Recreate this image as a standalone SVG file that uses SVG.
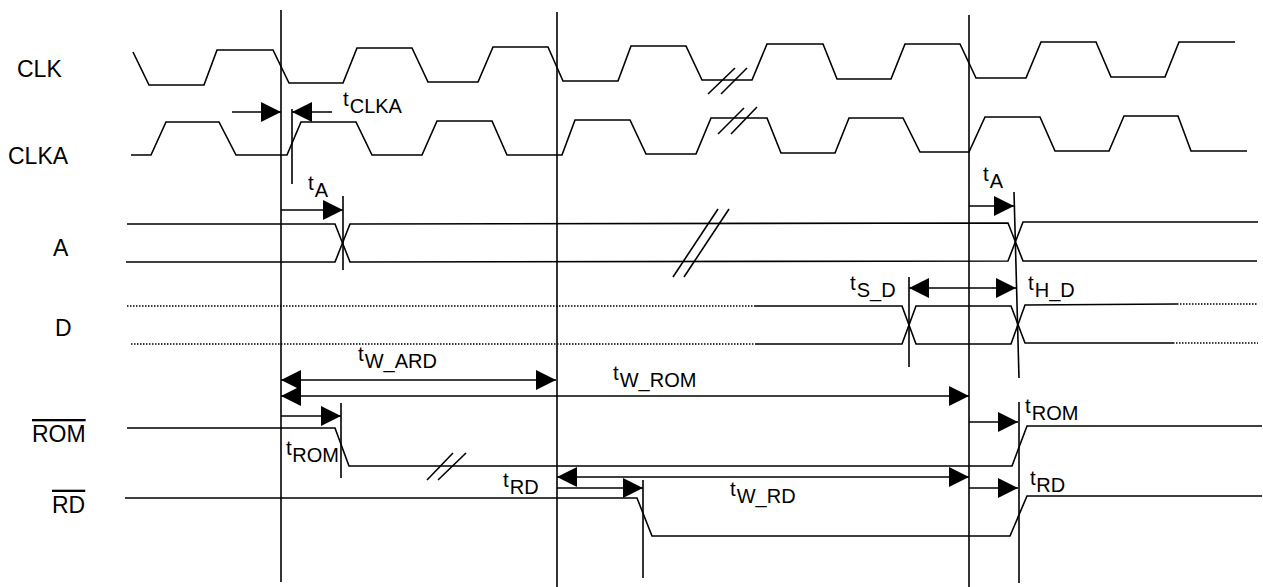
<svg xmlns="http://www.w3.org/2000/svg" width="1263" height="587" viewBox="0 0 1263 587">
<style>
.w{fill:none;stroke:#000;stroke-width:1.6;stroke-linejoin:miter}
.dot{fill:none;stroke:#000;stroke-width:1.4;stroke-dasharray:1.5 1.5}
.v{stroke:#000;stroke-width:1.6}
.a{fill:none;stroke:#000;stroke-width:1.6}
.lbl{font-family:"Liberation Sans",Arial,sans-serif;font-size:23px;fill:#000}
.t{font-family:"Liberation Sans",Arial,sans-serif;font-size:20.5px;fill:#000}
.s{font-size:20px}
</style>
<defs>
<marker id="ah" viewBox="0 0 20 20" refX="20" refY="10" markerWidth="20" markerHeight="20" markerUnits="userSpaceOnUse" orient="auto-start-reverse">
<path d="M0,0 L20,10 L0,20 z" fill="#000"/>
</marker>
</defs>
<rect width="1263" height="587" fill="#fff"/>

<g id="guides">
<line class="v" x1="281" y1="10" x2="281" y2="582"/>
<line class="v" x1="557" y1="12" x2="557" y2="587"/>
<line class="v" x1="969" y1="15" x2="969" y2="587"/>
<line class="v" x1="292" y1="109" x2="292" y2="184"/>
<line class="v" x1="343" y1="196" x2="343" y2="270"/>
<line class="v" x1="341" y1="403" x2="341" y2="478"/>
<line class="v" x1="643" y1="480" x2="643" y2="578"/>
<line class="v" x1="909" y1="277" x2="909" y2="367"/>
<line class="v" x1="1014" y1="192" x2="1019" y2="378"/>
<line class="v" x1="1019" y1="402" x2="1019" y2="583"/>
</g>

<g id="clk">
<text class="lbl" x="17" y="76.5">CLK</text>
<polyline class="w" points="133,52 149,85 204,85 217,50 273,50 289,83 343,83 357,48 412,48 428,82 478,82 493,47 548,47 563,81 618,81 631,46 686,46 702,80 752,80 767,44 823,44 837,79 891,79 905,44 960,44 976,78 1026,78 1041,42 1096,42 1111,77 1165,77 1179,42 1235,42"/>
<line class="w" x1="708" y1="94" x2="735" y2="68"/>
<line class="w" x1="721" y1="94" x2="747" y2="68"/>
</g>

<g id="clka">
<text class="lbl" x="8" y="164">CLKA</text>
<polyline class="w" points="131,155 151,155 166,122 219,122 236,155 287,155 301,122 356,122 372,155 422,155 437,121 492,121 507,155 562,155 575,120 630,120 646,154 696,154 711,118 767,118 781,153 835,153 849,118 903,118 920,152 969,152 985,117 1040,117 1055,151 1109,151 1124,116 1178,116 1191,151 1247,151"/>
<line class="w" x1="718" y1="134" x2="744" y2="108"/>
<line class="w" x1="731" y1="134" x2="757" y2="107"/>
</g>

<g id="a">
<text class="lbl" x="53" y="256">A</text>
<polyline class="w" points="127,224 335,224 350,262 1008,261 1023,222 1258,222"/>
<polyline class="w" points="126,262 335,262 350,224 1008,223 1023,261 1257,261"/>
<line class="w" x1="673" y1="277" x2="718" y2="209"/>
<line class="w" x1="684" y1="277" x2="729" y2="209"/>
</g>

<g id="d">
<text class="lbl" x="55" y="336">D</text>
<line class="dot" x1="127" y1="306" x2="755" y2="306"/>
<line class="dot" x1="131" y1="344" x2="755" y2="344"/>
<polyline class="w" points="755,306 902,306 916,344 1011,344 1025,305 1177,304"/>
<polyline class="w" points="755,344 902,344 916,306 1011,306 1025,343 1173,343"/>
<line class="dot" x1="1177" y1="304" x2="1258" y2="304"/>
<line class="dot" x1="1173" y1="343" x2="1258" y2="343"/>
</g>

<g id="rom">
<text class="lbl" x="32" y="442" text-decoration="overline">ROM</text>
<polyline class="w" points="127,428 335,428 349,466 1012,466 1027,426 1262,426"/>
<line class="w" x1="427" y1="480" x2="453" y2="453"/>
<line class="w" x1="438" y1="480" x2="466" y2="453"/>
</g>

<g id="rd">
<text class="lbl" x="52" y="512.7" text-decoration="overline">RD</text>
<polyline class="w" points="125,498 637,498 652,536 1010,536 1027,496 1262,496"/>
</g>

<g id="connectors">
<line class="a" x1="232" y1="112" x2="281" y2="112" marker-end="url(#ah)"/>
<line class="a" x1="332" y1="112" x2="292" y2="112" marker-end="url(#ah)"/>
<line class="a" x1="281" y1="210" x2="343" y2="210" marker-end="url(#ah)"/>
<line class="a" x1="969" y1="206" x2="1014" y2="206" marker-end="url(#ah)"/>
<line class="a" x1="909" y1="288" x2="1016" y2="288" marker-start="url(#ah)" marker-end="url(#ah)"/>
<line class="a" x1="281" y1="380" x2="556" y2="380" marker-start="url(#ah)" marker-end="url(#ah)"/>
<line class="a" x1="281" y1="396" x2="969" y2="396" marker-start="url(#ah)" marker-end="url(#ah)"/>
<line class="a" x1="281" y1="416" x2="341" y2="416" marker-end="url(#ah)"/>
<line class="a" x1="557" y1="477" x2="969" y2="477" marker-start="url(#ah)" marker-end="url(#ah)"/>
<line class="a" x1="557" y1="488" x2="643" y2="488" marker-end="url(#ah)"/>
<line class="a" x1="969" y1="422" x2="1018" y2="422" marker-end="url(#ah)"/>
<line class="a" x1="969" y1="488" x2="1018" y2="488" marker-end="url(#ah)"/>
</g>

<g id="labels">
<text class="t" x="343" y="106">t<tspan class="s" dx="1" dy="7">CLKA</tspan></text>
<text class="t" x="308" y="190">t<tspan class="s" dx="1" dy="7">A</tspan></text>
<text class="t" x="983" y="181">t<tspan class="s" dx="1" dy="7">A</tspan></text>
<text class="t" x="850" y="290">t<tspan class="s" dx="1" dy="7">S_D</tspan></text>
<text class="t" x="1028" y="290">t<tspan class="s" dx="1" dy="7">H_D</tspan></text>
<text class="t" x="358" y="361">t<tspan class="s" dx="1" dy="7">W_ARD</tspan></text>
<text class="t" x="613" y="380">t<tspan class="s" dx="1" dy="7">W_ROM</tspan></text>
<text class="t" x="286" y="455">t<tspan class="s" dx="0.5" dy="7">ROM</tspan></text>
<text class="t" x="503" y="487">t<tspan class="s" dx="1" dy="7">RD</tspan></text>
<text class="t" x="730" y="496">t<tspan class="s" dx="1" dy="7">W_RD</tspan></text>
<text class="t" x="1025" y="413">t<tspan class="s" dx="1" dy="7">ROM</tspan></text>
<text class="t" x="1030" y="485">t<tspan class="s" dx="0.5" dy="7">RD</tspan></text>
</g>
</svg>
